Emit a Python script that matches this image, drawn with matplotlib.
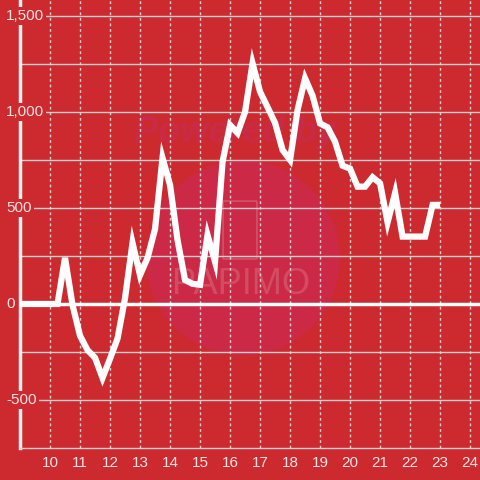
import matplotlib
matplotlib.use("Agg")
import matplotlib.pyplot as plt
import matplotlib.transforms as mtransforms
from matplotlib.patches import Circle, FancyBboxPatch
import numpy as np

BG = "#cc2a2f"
LIGHT = "#f2e4e4"
GRID = "#d8d0d0"

# quarter steps from 9.0 to 23.0
x_values = [9.0 + 0.25 * i for i in range(57)]
y_values = [0, 0, 0, 0, 0, 0, 240, -5, -165, -240, -280, -385,
            -285, -180, 30, 318, 150, 240, 390, 760, 620, 333, 125,
            105, 100, 359, 220, 740, 932, 890, 1000, 1253, 1105, 1025,
            943, 802, 750, 1010, 1175, 1085, 940, 920, 845, 720, 705,
            611, 611, 660, 628, 425, 578, 351, 351, 351, 351, 516, 516]

x_ticks = list(range(10, 25))
y_ticks = [-500, 0, 500, 1000, 1500]
y_tick_labels = ["-500", "0", "500", "1,000", "1,500"]
y_grid = [-500, -250, 0, 250, 500, 750, 1000, 1250, 1500]

plt.rcParams["font.family"] = ["Liberation Sans", "DejaVu Sans"]

fig = plt.figure(figsize=(4.8, 4.8), dpi=100, facecolor=BG)
ax = fig.add_axes([20 / 480, 32 / 480, 460 / 480, 448 / 480])
ax.set_facecolor(BG)
ax.set_xlim(9.0, 24.33)
ax.set_ylim(-750, 1583)

# watermark (behind grid and line)
ax.add_patch(Circle((243 / 480, 1 - 258 / 480), 97 / 480, transform=fig.transFigure,
                    facecolor="#cc2947", edgecolor="none", zorder=0.5, clip_on=False))
ax.add_patch(FancyBboxPatch((224 / 480, 1 - 258 / 480), 32 / 480, 56 / 480,
                            boxstyle="round,pad=0.002", transform=fig.transFigure,
                            facecolor="none", edgecolor="#d25366", lw=1.2, zorder=0.6))
ax.text(236 / 480, 1 - 133 / 480, "Powered by", transform=fig.transFigure,
        color="#c92b46", fontsize=26, fontweight="bold", style="italic",
        ha="center", va="center", zorder=0.6)
ax.text(241 / 480, 1 - 284 / 480, "PAPIMO", transform=fig.transFigure,
        color="#d24d61", fontsize=26, ha="center", va="center", zorder=0.6)

for yv in y_grid:
    if yv == 0:
        continue
    ax.axhline(yv, color=GRID, lw=1, zorder=1)
for xv in x_ticks:
    ax.axvline(xv, color=GRID, lw=1, ls=(0, (2, 2)), zorder=1)
ax.axhline(0, color="white", lw=2.5, zorder=2)

ax.plot(x_values, y_values, color="white", lw=4.5, solid_joinstyle="miter",
        solid_capstyle="butt", zorder=3)

for s in ["top", "right"]:
    ax.spines[s].set_visible(False)
ax.spines["left"].set_color("#f4f0f0")
ax.spines["left"].set_linewidth(2.5)
ax.spines["bottom"].set_color(GRID)
ax.spines["bottom"].set_linewidth(1)

ax.set_xticks(x_ticks)
ax.set_xticklabels([str(t) for t in x_ticks], color=LIGHT, fontsize=11)
ax.tick_params(axis="x", length=0, pad=6)
ax.set_yticks([])

trans = mtransforms.blended_transform_factory(fig.transFigure, ax.transData)
for yv, lab in zip(y_ticks, y_tick_labels):
    ax.text(6 / 480, yv, lab, transform=trans, ha="left", va="center",
            color=LIGHT, fontsize=11, clip_on=False, zorder=5,
            bbox=dict(facecolor=BG, edgecolor="none", pad=1.5))

fig.savefig("out.png", dpi=100, facecolor=BG)
